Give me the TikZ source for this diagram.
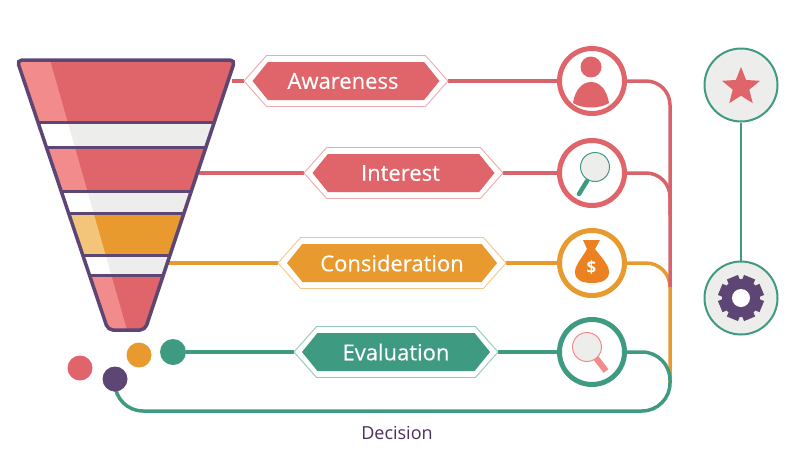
\documentclass[tikz,border=0pt]{standalone}
\usepackage{fontspec}
\setmainfont{Open Sans}
\usetikzlibrary{backgrounds,positioning,shapes.symbols,shapes.geometric}

\definecolor{berry}{HTML}{E0656A}
\definecolor{rope}{HTML}{D8636A}
\definecolor{blush}{HTML}{F28C8C}
\definecolor{amber}{HTML}{E99A2E}
\definecolor{sand}{HTML}{F3C57B}
\definecolor{sack}{HTML}{EC8122}
\definecolor{teal}{HTML}{3F9A82}
\definecolor{plum}{HTML}{5E4674}
\definecolor{mist}{HTML}{EDEDEB}
\definecolor{ink}{HTML}{4A2F5C}

\begin{document}
\begin{tikzpicture}
  [x=1pt,y=-1pt,
   stage/.style={signal,signal to=east and west,signal pointer angle=102,
     minimum height=38pt,inner sep=0pt,outer sep=0pt,text=white,
     font=\fontsize{22}{24}\selectfont\addfontfeature{FakeBold=0.3}},
   stage rim/.style={signal,signal to=east and west,signal pointer angle=97,
     minimum height=51pt,inner sep=0pt,outer sep=0pt,fill=white,draw=#1!55,line width=.9pt},
   badge/.style={circle,draw=#1,fill=white,line width=5pt,minimum size=65pt,inner sep=0pt},
   side badge/.style={circle,draw=teal,fill=mist,line width=2pt,minimum size=73pt,inner sep=0pt},
   dot/.style={circle,fill=#1,minimum size=25pt,inner sep=0pt},
   link/.style={draw=#1,line width=3.5pt,rounded corners=24pt},
   lens/.style={circle,fill=mist,draw=#1,line width=1pt,minimum size=29pt,inner sep=0pt}]

  \useasboundingbox (0,0) rectangle (800,450);

  % Funnel
  \begin{scope}
    \clip [rounded corners=5pt] (17,60) -- (235,60) -- (145,330) -- (108,330) -- cycle;
    \foreach \ytop/\ybot/\main/\light in {60/122/berry/blush,122/147/mist/white,147/191/berry/blush,
        191/213/mist/white,213/255/amber/sand,255/275/mist/white,275/330/berry/blush} {
      \fill [\main] (0,\ytop) rectangle (240,\ybot);
      \fill [\light] (0,\ytop) -- ({50+.285*(\ytop-60)},\ytop) -- ({50+.285*(\ybot-60)},\ybot) -- (0,\ybot) -- cycle;
    }
    \foreach \ybot in {122,147,191,213,255,275}
      \draw [plum,line width=3pt] (0,\ybot) -- (240,\ybot);
  \end{scope}
  \draw [plum,line width=3.5pt,rounded corners=5pt] (17,60) -- (235,60) -- (145,330) -- (108,330) -- cycle;

  \coordinate (fa) at (232,81);
  \coordinate (fi) at (199,173);
  \coordinate (fc) at (167,263);

  % Stages
  \node [stage rim=berry,minimum width=204pt] (awareness rim) at (346,81) {};
  \node [stage,fill=berry,minimum width=187pt] (awareness) at (awareness rim.center) {Awareness\hspace*{6pt}};
  \node [stage rim=berry,minimum width=199pt] (interest rim) at (403.5,173) {};
  \node [stage,fill=berry,minimum width=182pt] (interest) at (interest rim.center) {Interest\hspace*{6pt}};
  \node [stage rim=amber,minimum width=228pt] (consideration rim) at (392,263) {};
  \node [stage,fill=amber,minimum width=210pt] (consideration) at (consideration rim.center) {Consideration};
  \node [stage rim=teal,minimum width=204pt] (evaluation rim) at (396,352) {};
  \node [stage,fill=teal,minimum width=188pt] (evaluation) at (evaluation rim.center) {Evaluation};

  % Badges
  \node [badge=berry] (person) at (592,81) {};
  \node [badge=berry] (search) at (592,173) {};
  \node [badge=amber] (money) at (592,263) {};
  \node [badge=teal] (check) at (592,352) {};
  \node [side badge] (goal) at (741,85) {};
  \node [side badge] (setup) at (741,298) {};

  % Dots
  \node [dot=berry] (d1) at (80,368) {};
  \node [dot=amber] (d2) at (139,355) {};
  \node [dot=teal,minimum size=26pt] (d3) at (173,352) {};
  \node [dot=plum] (d4) at (115,379) {};

  \node [text=ink,font=\fontsize{18}{20}\selectfont] (decision) at (397,433) {Decision};

  % Person
  \node [circle,fill=berry,minimum size=21pt,inner sep=0pt] (head) at (591,67) {};
  \fill [berry] (573,103) .. controls (575,90) and (582,82) .. (591,82)
    .. controls (600,82) and (607,90) .. (609,103) .. controls (600,109) and (582,109) .. (573,103) -- cycle;

  % First magnifier
  \node [lens=teal] (lens1) at (595,167) {};
  \draw [teal,line width=4.5pt,line cap=round] (587,181) -- (579,194);

  % Money bag
  \fill [sack] (583,240) -- (600,240) -- (595,249) .. controls (602,258) and (609,265) .. (609,272)
    .. controls (609,280) and (602,283) .. (592,283) .. controls (582,283) and (575,280) .. (575,272)
    .. controls (575,265) and (582,258) .. (587,249) -- cycle;
  \node [text=white,font=\bfseries\fontsize{17}{18}\selectfont] (cash) at (591.5,268) {\$};

  % Second magnifier
  \node [lens=blush] (lens2) at (587,347) {};
  \draw [blush,line width=6pt] (596,358) -- (606,371);

  % Star
  \node [star,star points=5,star point ratio=2.3,fill=berry,minimum size=40pt,inner sep=0pt] (prize) at (741,87) {};

  % Gear
  \foreach \a in {0,45,90,135}
    \fill [plum,rotate around={\a+22.5:(741,298)}] (735,275.5) rectangle (747,320.5);
  \node [circle,fill=plum,minimum size=38pt,inner sep=0pt] (wheel) at (741,298) {};
  \node [circle,fill=white,minimum size=18pt,inner sep=0pt] (hole) at (741,298) {};

  \begin{scope}[on background layer]
    \draw [link=rope] (fa) -- (awareness rim.west);
    \draw [link=rope] (fi) -- (interest rim.west);
    \draw [link=amber] (fc) -- (consideration rim.west);
    \draw [link=teal] (d3) -- (evaluation rim.west);

    \draw [link=rope] (awareness rim.east) -- (person);
    \draw [link=rope] (interest rim.east) -- (search);
    \draw [link=amber] (consideration rim.east) -- (money);
    \draw [link=teal] (evaluation rim.east) -- (check);

    % Collector lines
    \draw [link=amber] (money.east) -- (670,263) -- (670,383);
    \draw [link=rope] (search.east) -- (670,173) -- (670,215);
    \draw [link=rope] (person.east) -- (670,81) -- (670,287);
    \draw [link=teal,rounded corners=28pt] (check.east) -- (670,352) -- (670,411) -- (115,411) -- (d4);

    \draw [teal,line width=2pt] (goal) -- (setup);
  \end{scope}
\end{tikzpicture}
\end{document}
